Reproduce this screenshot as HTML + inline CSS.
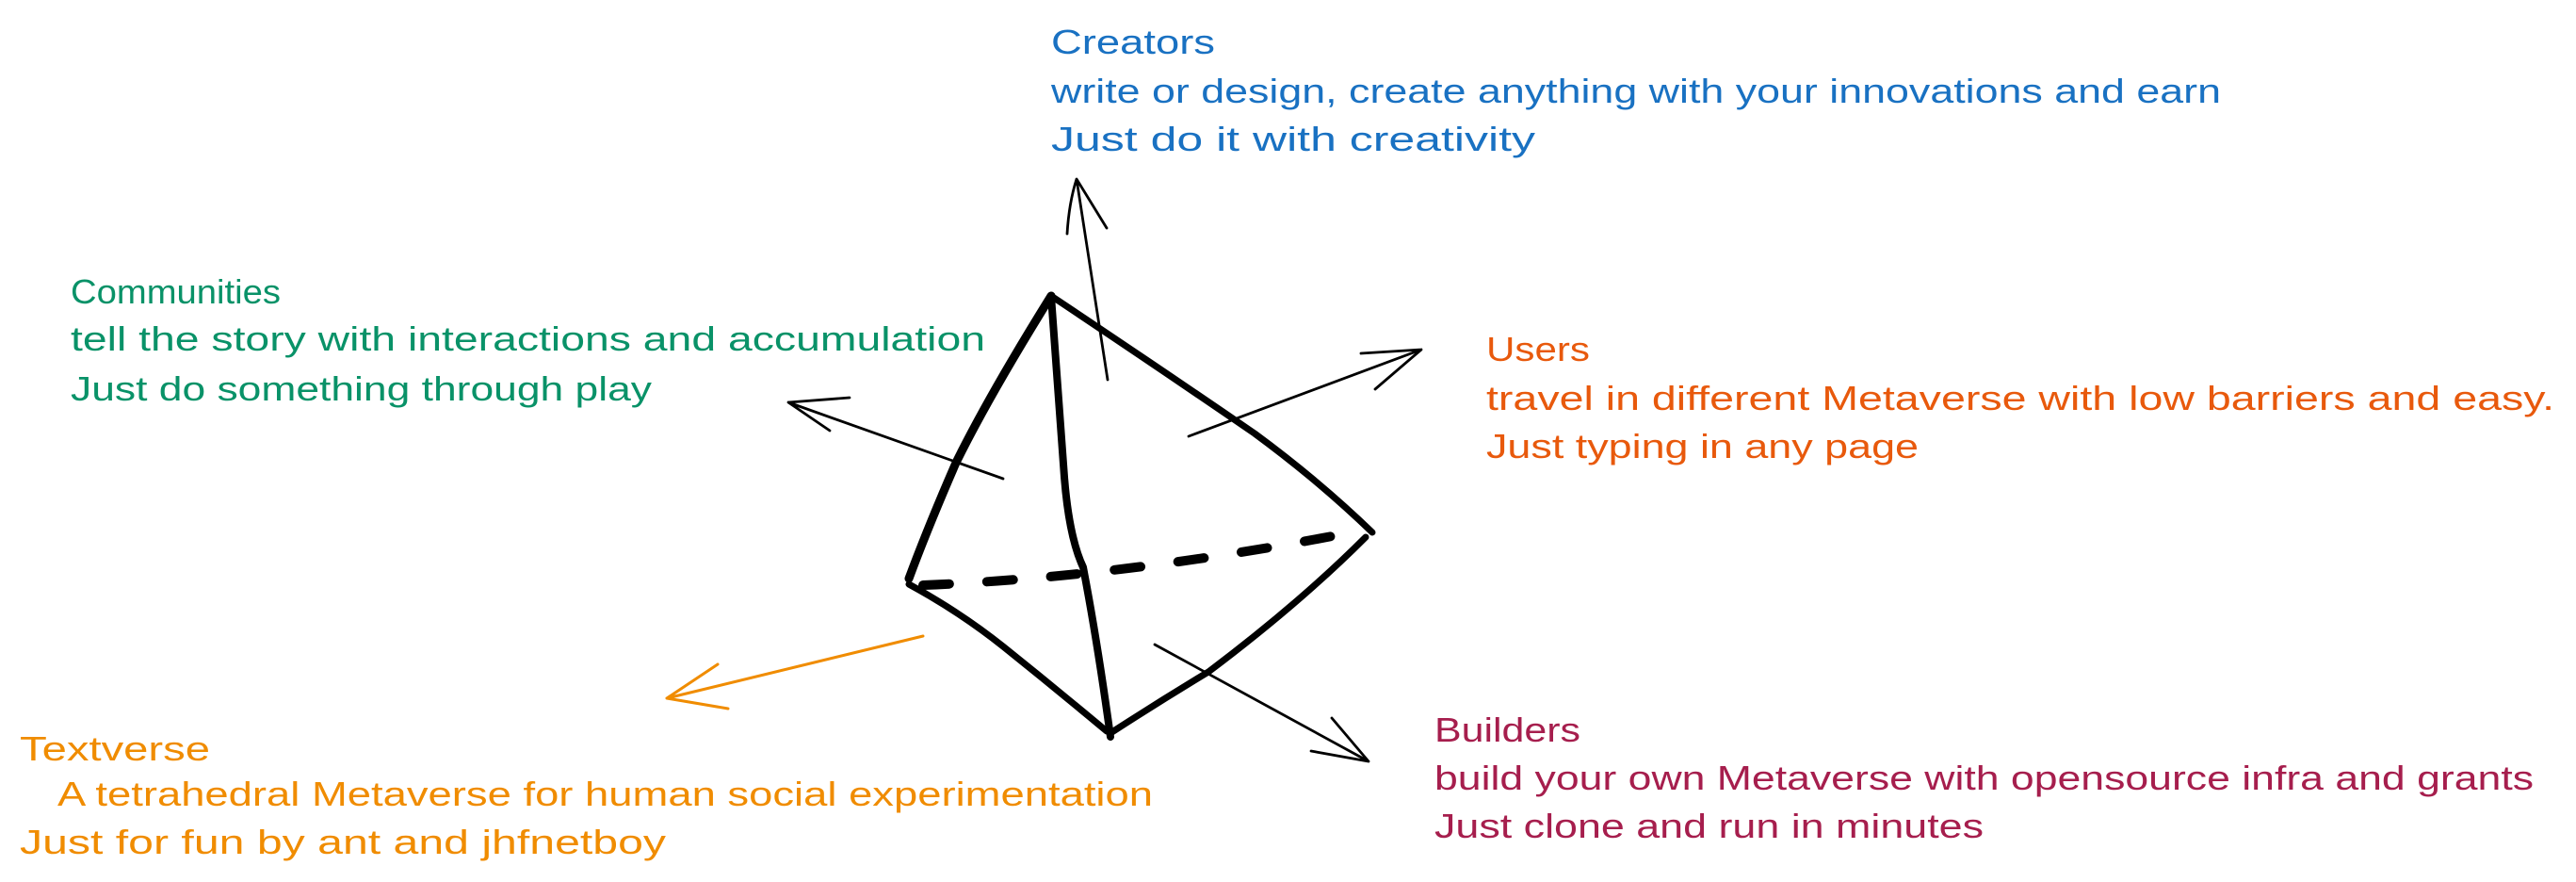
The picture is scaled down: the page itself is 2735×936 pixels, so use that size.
<!DOCTYPE html>
<html><head><meta charset="utf-8"><style>
html,body{margin:0;padding:0;background:#fff;}
svg{display:block;}
text{font-family:"Liberation Sans",sans-serif;font-size:36px;}
</style></head><body>
<svg width="2735" height="936" viewBox="0 0 2735 936" xmlns="http://www.w3.org/2000/svg">
<g fill="#1971c2">
<text x="1116" y="57" textLength="174" lengthAdjust="spacingAndGlyphs">Creators</text>
<text x="1116" y="109" textLength="1242" lengthAdjust="spacingAndGlyphs">write or design, create anything with your innovations and earn</text>
<text x="1116" y="160" textLength="514" lengthAdjust="spacingAndGlyphs">Just do it with creativity</text>
</g>
<g fill="#099268">
<text x="75" y="322" textLength="223" lengthAdjust="spacingAndGlyphs">Communities</text>
<text x="75" y="372" textLength="971" lengthAdjust="spacingAndGlyphs">tell the story with interactions and accumulation</text>
<text x="75" y="425" textLength="617" lengthAdjust="spacingAndGlyphs">Just do something through play</text>
</g>
<g fill="#e8590c">
<text x="1578" y="383" textLength="110" lengthAdjust="spacingAndGlyphs">Users</text>
<text x="1578" y="435" textLength="1134" lengthAdjust="spacingAndGlyphs">travel in different Metaverse with low barriers and easy.</text>
<text x="1578" y="486" textLength="459" lengthAdjust="spacingAndGlyphs">Just typing in any page</text>
</g>
<g fill="#f08c00">
<text x="21" y="807" textLength="202" lengthAdjust="spacingAndGlyphs">Textverse</text>
<text x="61" y="855" textLength="1163" lengthAdjust="spacingAndGlyphs">A tetrahedral Metaverse for human social experimentation</text>
<text x="21" y="906" textLength="686" lengthAdjust="spacingAndGlyphs">Just for fun by ant and jhfnetboy</text>
</g>
<g fill="#a61e4d">
<text x="1523" y="787" textLength="155" lengthAdjust="spacingAndGlyphs">Builders</text>
<text x="1523" y="838" textLength="1167" lengthAdjust="spacingAndGlyphs">build your own Metaverse with opensource infra and grants</text>
<text x="1523" y="889" textLength="583" lengthAdjust="spacingAndGlyphs">Just clone and run in minutes</text>
</g>
<g fill="none" stroke="#000" stroke-linecap="round" stroke-linejoin="round">
<path d="M1116 314 Q1050 420 1015 491 Q985 560 965 614" stroke-width="9"/>
<path d="M1116 314 L1130 506 Q1135 570 1150 602 Q1165 680 1179 782" stroke-width="8"/>
<path d="M1116 314 Q1230 390 1332 460 Q1400 510 1457 565" stroke-width="7"/>
<path d="M965 620 Q1020 650 1065 686 Q1120 730 1175 776" stroke-width="7"/>
<path d="M1179 778 Q1230 745 1283 713 Q1380 640 1450 570" stroke-width="7"/>
<path d="M980 621 Q1200 612 1445 563" stroke-width="10" stroke-dasharray="28 40"/>
<g stroke-width="2.8">
<path d="M1176 403 L1143 190 M1133 248 Q1135 215 1143 190 L1175 242"/>
<path d="M1262 463 L1509 371 M1445 375 L1509 371 L1460 413"/>
<path d="M1065 508 L837 427 M902 422 L837 427 L881 457"/>
<path d="M1226 684 L1453 808 M1414 762 L1453 808 L1392 797"/>
</g>
<path d="M980 675 L708 741 M762 705 L708 741 L773 752" stroke="#f08c00" stroke-width="3"/>
</g>
</svg>
</body></html>
